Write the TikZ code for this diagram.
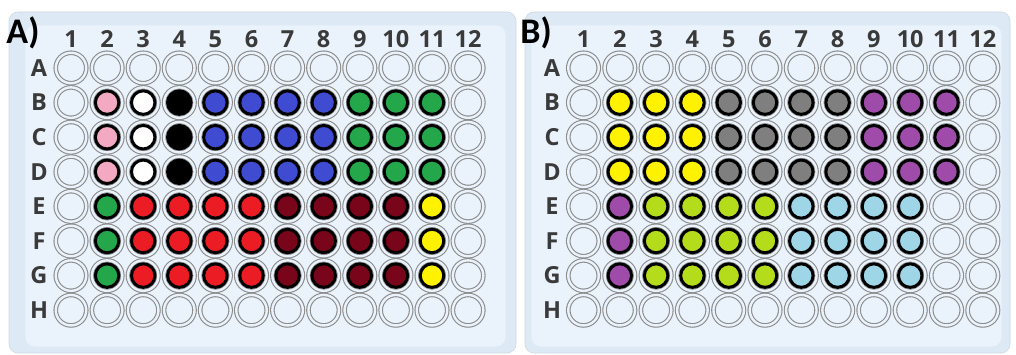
\documentclass[tikz,border=0pt]{standalone}
\usepackage{fontspec}
\setmainfont{Carlito}
\newfontfamily\labfont{Open Sans}
\definecolor{panelout}{HTML}{DDE9F4}
\definecolor{panelin}{HTML}{EAF3FC}
\definecolor{ringgray}{HTML}{8C8C8C}
\definecolor{labelgray}{HTML}{3A3A3A}
\definecolor{wpink}{HTML}{F4A9C2}
\definecolor{wwhite}{HTML}{FFFFFF}
\definecolor{wblack}{HTML}{000000}
\definecolor{wblue}{HTML}{3F4BD0}
\definecolor{wgreen}{HTML}{23A74A}
\definecolor{wred}{HTML}{EB1C24}
\definecolor{wdred}{HTML}{78051A}
\definecolor{wyellow}{HTML}{FFF200}
\definecolor{wgray}{HTML}{7F7F7F}
\definecolor{wpurple}{HTML}{9E4BAA}
\definecolor{wlime}{HTML}{B5DC1A}
\definecolor{wlblue}{HTML}{9ED6E8}
\tikzset{
  x=1pt, y=-1pt,
  panel/.style={rounded corners=9pt, fill=panelout, draw=panelout!85!gray, line width=0.6pt},
  innerpanel/.style={rounded corners=10pt, fill=panelin, draw=panelout, line width=0.6pt},
  wellout/.style={circle, inner sep=0pt, minimum size=30.5pt, draw=ringgray, line width=1.1pt,
     double=panelin, double distance=2.4pt},
  wellfill/.style={circle, inner sep=0pt, minimum size=23.5pt, draw=black, line width=3pt, fill=#1},
  collabel/.style={font=\labfont\bfseries\fontsize{23.5}{26}\selectfont, text=labelgray, inner sep=0pt},
  rowlabel/.style={font=\labfont\bfseries\fontsize{23.5}{26}\selectfont, text=labelgray, inner sep=0pt},
  panellabel/.style={font=\bfseries\fontsize{36}{38}\selectfont, text=black, inner sep=0pt},
}
\begin{document}
\begin{tikzpicture}
\useasboundingbox (0,0) rectangle (1016,355);
\fill[white] (0,0) rectangle (1016,355);
% panels
\path[panel] (9,12) rectangle (516,353);
\path[innerpanel] (25,25) rectangle (506,347);
\path[panel] (525,12) rectangle (1010,353);
\path[innerpanel] (531,25) rectangle (1002,347);

\node[panellabel] (labA) at (23,33) {A)};
\node[panellabel] (labB) at (536,33) {B)};

% ---------- Panel A ----------
\foreach \c in {1,...,12} {
  \pgfmathsetmacro{\xx}{71+36.1*(\c-1)}
  \node[collabel] (Acol\c) at (\xx,39) {\c};
}
\foreach \r [count=\ri] in {A,B,C,D,E,F,G,H} {
  \pgfmathsetmacro{\yy}{68+34.6*(\ri-1)}
  \node[rowlabel] (Arow\r) at (39,\yy) {\r};
  \foreach \c in {1,...,12} {
    \pgfmathsetmacro{\xx}{71+36.1*(\c-1)}
    \node[wellout] (A\r\c) at (\xx,\yy) {};
  }
}
\foreach \r in {B,C,D} {
  \foreach \col [count=\c from 2] in {wpink,wwhite,wblack,wblue,wblue,wblue,wblue,wgreen,wgreen,wgreen} {
    \node[wellfill=\col] (A\r\c f) at (A\r\c) {};
  }
}
\foreach \r in {E,F,G} {
  \foreach \col [count=\c from 2] in {wgreen,wred,wred,wred,wred,wdred,wdred,wdred,wdred,wyellow} {
    \node[wellfill=\col] (A\r\c f) at (A\r\c) {};
  }
}

% ---------- Panel B ----------
\foreach \c in {1,...,12} {
  \pgfmathsetmacro{\xx}{583.5+36.3*(\c-1)}
  \node[collabel] (Bcol\c) at (\xx,39) {\c};
}
\foreach \r [count=\ri] in {A,B,C,D,E,F,G,H} {
  \pgfmathsetmacro{\yy}{68+34.6*(\ri-1)}
  \node[rowlabel] (Brow\r) at (552,\yy) {\r};
  \foreach \c in {1,...,12} {
    \pgfmathsetmacro{\xx}{583.5+36.3*(\c-1)}
    \node[wellout] (B\r\c) at (\xx,\yy) {};
  }
}
\foreach \r in {B,C,D} {
  \foreach \col [count=\c from 2] in {wyellow,wyellow,wyellow,wgray,wgray,wgray,wgray,wpurple,wpurple,wpurple} {
    \node[wellfill=\col] (B\r\c f) at (B\r\c) {};
  }
}
\foreach \r in {E,F,G} {
  \foreach \col [count=\c from 2] in {wpurple,wlime,wlime,wlime,wlime,wlblue,wlblue,wlblue,wlblue} {
    \node[wellfill=\col] (B\r\c f) at (B\r\c) {};
  }
}
\end{tikzpicture}
\end{document}
